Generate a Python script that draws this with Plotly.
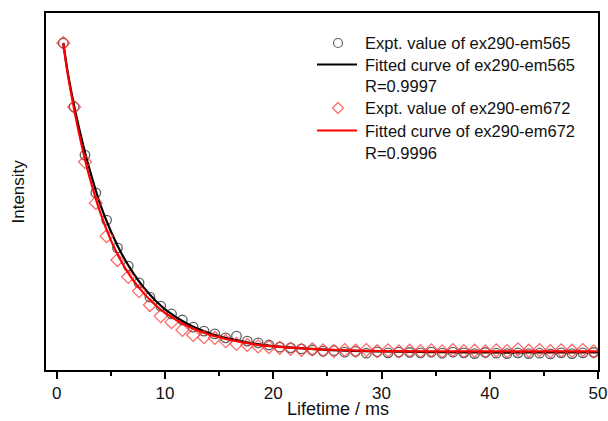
import plotly.graph_objects as go

# ---- data (arbitrary intensity units) ----
x_expt = [0.6 + i for i in range(50)]

em565_expt = [91.6, 73.7, 60.2, 49.6, 42.0, 34.2, 29.1, 24.4, 20.4, 17.9,
              15.7, 14.0, 12.0, 10.9, 10.1, 9.0, 9.5, 8.1, 7.6, 7.0,
              6.4, 6.2, 5.9, 5.6, 5.3, 5.4, 5.0, 5.2, 4.7, 5.1,
              4.8, 5.0, 4.9, 4.8, 5.0, 4.7, 5.0, 4.8, 4.6, 4.9,
              4.7, 4.6, 4.8, 4.6, 4.7, 4.5, 4.8, 4.6, 4.8, 4.9]

em672_expt = [91.6, 73.7, 58.3, 46.8, 37.5, 30.8, 26.1, 22.1, 18.2, 15.1,
              13.4, 11.2, 9.8, 9.2, 9.0, 8.1, 7.3, 7.0, 6.6, 6.4,
              6.2, 5.9, 5.6, 5.8, 5.5, 5.3, 5.6, 5.4, 5.6, 5.3,
              5.5, 5.2, 5.4, 5.3, 5.5, 5.2, 5.6, 5.3, 5.4, 5.2,
              5.5, 5.3, 5.8, 5.4, 5.6, 5.3, 5.5, 5.4, 5.6, 5.2]

x_fit = [0.6, 1.0, 1.6, 2.0, 2.6, 3.0, 4.0, 5.0, 6.0, 7.0, 8.0, 9.0, 10.0,
         12.0, 14.0, 16.0, 18.0, 20.0, 23.0, 26.0, 30.0, 35.0, 40.0, 45.0, 50.0]
em565_fit = [91.6, 83.5, 74.0, 68.5, 61.0, 56.5, 46.5, 38.8, 32.5, 27.4, 23.2, 19.8, 17.0,
             13.0, 10.4, 8.7, 7.5, 6.7, 6.0, 5.5, 5.2, 5.0, 4.9, 4.9, 4.9]
em672_fit = [91.6, 83.0, 73.0, 67.0, 59.0, 54.3, 44.2, 36.3, 30.2, 25.4, 21.6, 18.5, 16.0,
             12.4, 10.0, 8.4, 7.3, 6.6, 6.0, 5.6, 5.3, 5.2, 5.2, 5.2, 5.2]

legend_texts = ["Expt. value of ex290-em565", "Fitted curve of ex290-em565", "R=0.9997",
                "Expt. value of ex290-em672", "Fitted curve of ex290-em672", "R=0.9996"]

x_ticks = [0, 10, 20, 30, 40, 50]

FONT = "Arial, Liberation Sans, sans-serif"
CIRCLE_COLOR = "rgba(55,55,55,0.8)"
DIAMOND_COLOR = "rgba(255,60,60,0.8)"

fig = go.Figure()
fig.add_trace(go.Scatter(x=x_expt, y=em565_expt, mode="markers", name=legend_texts[0],
                         marker=dict(symbol="circle-open", size=9.5,
                                     color=CIRCLE_COLOR, line=dict(width=1.3))))
fig.add_trace(go.Scatter(x=x_fit, y=em565_fit, mode="lines", name=legend_texts[1],
                         line=dict(color="black", width=2.2, shape="spline")))
fig.add_trace(go.Scatter(x=x_expt, y=em672_expt, mode="markers", name=legend_texts[3],
                         marker=dict(symbol="diamond-open", size=10,
                                     color=DIAMOND_COLOR, line=dict(width=1.2))))
fig.add_trace(go.Scatter(x=x_fit, y=em672_fit, mode="lines", name=legend_texts[4],
                         line=dict(color="#ff0000", width=2.2, shape="spline")))

# ---- hand-built legend (paper coords) ----
L, R, T, B = 46, 598, 13, 370
W, H = R - L, B - T
def px(xp): return (xp - L) / W
def py(yp): return (B - yp) / H

row_y = [43, 64.5, 86, 108, 130.5, 153]
text_x = 363
annotations = []
for t, yy in zip(legend_texts, row_y):
    annotations.append(dict(text=t, xref="paper", yref="paper", x=px(text_x), y=py(yy),
                            xanchor="left", yanchor="middle", showarrow=False,
                            font=dict(size=16.5, color="#111")))
shapes = []
# line symbols
for yy, col in [(row_y[1], "black"), (row_y[4], "#ff0000")]:
    shapes.append(dict(type="line", xref="paper", yref="paper",
                       x0=px(317), x1=px(357), y0=py(yy), y1=py(yy),
                       line=dict(color=col, width=2.2)))
# circle symbol
shapes.append(dict(type="circle", xref="paper", yref="paper", xsizemode="pixel", ysizemode="pixel",
                   xanchor=px(338), yanchor=py(row_y[0]), x0=-4.5, x1=4.5, y0=-4.5, y1=4.5,
                   line=dict(color=CIRCLE_COLOR, width=1.2)))
# diamond symbol
shapes.append(dict(type="path", xref="paper", yref="paper", xsizemode="pixel", ysizemode="pixel",
                   xanchor=px(338), yanchor=py(row_y[3]),
                   path="M 0,5.5 L 5.5,0 L 0,-5.5 L -5.5,0 Z",
                   line=dict(color=DIAMOND_COLOR, width=1.2)))

annotations += [
    dict(text="Intensity", xref="paper", yref="paper",
         x=px(18), y=0.5, textangle=-90, showarrow=False,
         xanchor="center", yanchor="middle", font=dict(size=17)),
    dict(text="Lifetime / ms", xref="paper", yref="paper",
         x=px(338), y=py(408.5), showarrow=False,
         xanchor="center", yanchor="middle", font=dict(size=18)),
]

fig.update_layout(
    width=608, height=421,
    margin=dict(l=L, r=608 - R, t=T, b=421 - B, autoexpand=False),
    paper_bgcolor="white", plot_bgcolor="white",
    font=dict(family=FONT, size=16, color="#111"),
    showlegend=False,
    xaxis=dict(range=[-1, 50], showline=True, linecolor="black", linewidth=1.5,
               mirror=True, ticks="outside", ticklen=7, tickwidth=1.5, tickcolor="black",
               tickvals=x_ticks, ticktext=[str(v) for v in x_ticks],
               minor=dict(dtick=5, ticks="outside", ticklen=4, tickwidth=1.5, tickcolor="black"),
               showgrid=False, zeroline=False, tickfont=dict(size=17),
               ticklabelstandoff=0, automargin=False),
    yaxis=dict(range=[0, 100], showline=True, linecolor="black", linewidth=1.5,
               mirror=True, ticks="", showticklabels=False, showgrid=False, zeroline=False,
               automargin=False),
    annotations=annotations,
    shapes=shapes,
)

fig.write_html("out.html", config={"displayModeBar": False},
               post_script="document.body.style.margin='0';document.body.style.overflow='hidden';")
